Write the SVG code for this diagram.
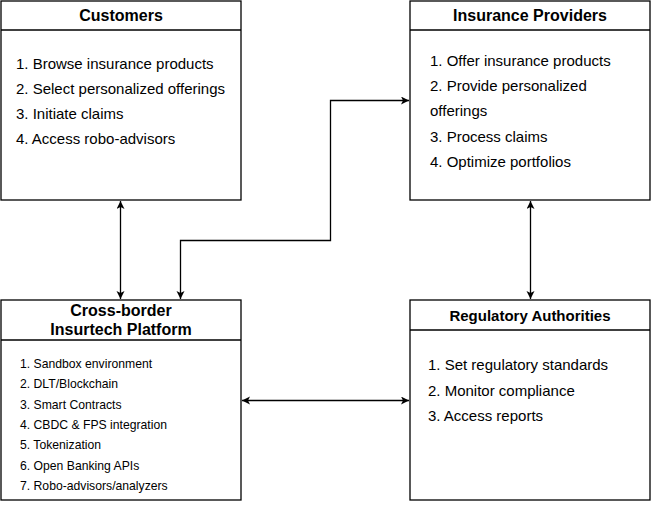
<svg xmlns="http://www.w3.org/2000/svg" width="651" height="506" viewBox="0 0 651 506">
<defs>
<marker id="arr" markerWidth="10" markerHeight="10" refX="8" refY="4" orient="auto-start-reverse" markerUnits="userSpaceOnUse">
<path d="M0,0 L8,4 L0,8 L2,4 Z" fill="#000"/>
</marker>
</defs>
<style>
.box{fill:#fff;stroke:#000;stroke-width:1.3}
.hdr{font-family:"Liberation Sans",Arial,Helvetica,sans-serif;font-weight:bold;font-size:16px;fill:#000;text-anchor:middle}
.hdr2{font-family:"Liberation Sans",Arial,Helvetica,sans-serif;font-weight:bold;font-size:15px;fill:#000;text-anchor:middle}
.it{font-family:"Liberation Sans",Arial,Helvetica,sans-serif;font-size:15px;fill:#000}
.sm{font-family:"Liberation Sans",Arial,Helvetica,sans-serif;font-size:12.2px;fill:#000}
.con{fill:none;stroke:#000;stroke-width:1.3;marker-start:url(#arr);marker-end:url(#arr)}
</style>
<rect width="651" height="506" fill="#fff"/>
<g id="customers">
<rect class="box" x="1" y="1" width="240" height="199"/>
<line class="box" x1="1" y1="30" x2="241" y2="30"/>
<text class="hdr" x="121" y="21">Customers</text>
<text class="it" x="16" y="68.5">1. Browse insurance products</text>
<text class="it" x="16" y="93.5">2. Select personalized offerings</text>
<text class="it" x="16" y="118.5">3. Initiate claims</text>
<text class="it" x="16" y="143.5">4. Access robo-advisors</text>
</g>
<g id="providers">
<rect class="box" x="410" y="1" width="240" height="199"/>
<line class="box" x1="410" y1="30" x2="650" y2="30"/>
<text class="hdr" x="530" y="21">Insurance Providers</text>
<text class="it" x="430" y="65.5">1. Offer insurance products</text>
<text class="it" x="430" y="90.5">2. Provide personalized</text>
<text class="it" x="430" y="115.5">offerings</text>
<text class="it" x="430" y="141.5">3. Process claims</text>
<text class="it" x="430" y="166.5">4. Optimize portfolios</text>
</g>
<g id="platform">
<rect class="box" x="1" y="300" width="240" height="200"/>
<line class="box" x1="1" y1="340" x2="241" y2="340"/>
<text class="hdr" x="121" y="316">Cross-border</text>
<text class="hdr" x="121" y="335">Insurtech Platform</text>
<text class="sm" x="20" y="367.5">1. Sandbox environment</text>
<text class="sm" x="20" y="388">2. DLT/Blockchain</text>
<text class="sm" x="20" y="408.5">3. Smart Contracts</text>
<text class="sm" x="20" y="428.5">4. CBDC &amp; FPS integration</text>
<text class="sm" x="20" y="449">5. Tokenization</text>
<text class="sm" x="20" y="469.5">6. Open Banking APIs</text>
<text class="sm" x="20" y="489.5">7. Robo-advisors/analyzers</text>
</g>
<g id="regulators">
<rect class="box" x="410" y="300" width="240" height="200"/>
<line class="box" x1="410" y1="330" x2="650" y2="330"/>
<text class="hdr2" x="530" y="321">Regulatory Authorities</text>
<text class="it" x="428" y="369.5">1. Set regulatory standards</text>
<text class="it" x="428" y="395.5">2. Monitor compliance</text>
<text class="it" x="428" y="420.5">3. Access reports</text>
</g>
<g id="connectors">
<path class="con" d="M120.5,201 L120.5,299"/>
<path class="con" d="M180.5,299 L180.5,240.5 L330.5,240.5 L330.5,100.5 L409,100.5"/>
<path class="con" d="M530.5,201 L530.5,299"/>
<path class="con" d="M242,400.5 L409,400.5"/>
</g>
</svg>
